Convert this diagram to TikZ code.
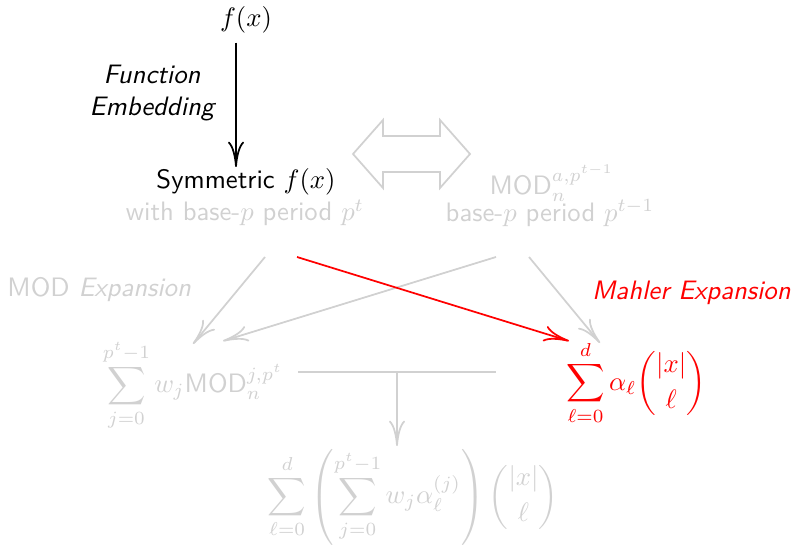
\documentclass[tikz,border=0pt]{standalone}
\usepackage{amsmath}
\usetikzlibrary{arrows.meta}
\begin{document}
\begin{tikzpicture}[x=0.375pt,y=-0.375pt,font=\sffamily,
  faded/.style={text=black!18},
  tipstyle/.style={-{To[length=9.5pt,width=6pt]}},
  gline/.style={draw=black!18, line width=0.65pt},
  garrow/.style={gline, tipstyle},
  rarrow/.style={draw=red, line width=0.65pt, tipstyle},
  barrow/.style={draw=black, line width=0.65pt, tipstyle}]
\useasboundingbox (0,0) rectangle (793,551);

\node (fx) at (246,20) {$f(x)$};
\node[font=\sffamily\itshape, align=center] (fe) at (152,93) {Function\\Embedding};
\node (sym) at (246,182) {Symmetric $f(x)$};
\node[faded] (symsub) at (245,213) {with base-$p$ period $p^t$};
\node[faded] (mod) at (552,183) {$\textsf{MOD}_n^{a,p^{t-1}}$};
\node[faded] (modsub) at (550,213) {base-$p$ period $p^{t-1}$};

\draw[gline] (353,154) -- (383,120) -- (383,136) -- (440,136) -- (440,120) -- (470,154)
  -- (440,188) -- (440,172) -- (383,172) -- (383,188) -- cycle;

\node[faded, anchor=west] (modexp) at (-2,290) {MOD \textit{Expansion}};
\node[red, font=\sffamily\itshape, anchor=east] (mahl) at (800,293) {Mahler Expansion};

\node[faded] (lsum) at (193,385) {$\displaystyle\sum_{j=0}^{p^t-1} w_j\textsf{MOD}_n^{j,p^t}$};
\node[red] (rsum) at (636,383) {$\displaystyle\sum_{\ell=0}^{d}\alpha_\ell\binom{|x|}{\ell}$};
\node[faded] (bsum) at (413,497) {$\displaystyle\sum_{\ell=0}^{d}\left(\sum_{j=0}^{p^t-1} w_j\alpha_\ell^{(j)}\right)\binom{|x|}{\ell}$};

\coordinate (s1) at (265,257);
\coordinate (s2) at (297,257);
\coordinate (s3) at (496,257);
\coordinate (s4) at (529,257);
\coordinate (h1) at (298,372);
\coordinate (h2) at (496,372);
\coordinate (hm) at (397,372);

\draw[barrow] ([xshift=-10*0.375pt]fx.south) -- (236,167);
\draw[garrow] (s1) -- (193,344);
\draw[garrow] (s3) -- (223,341);
\draw[garrow] (s4) -- (600,343);
\draw[rarrow] (s2) -- (569,341);
\draw[gline] (h1) -- (h2);
\draw[garrow] (hm) -- ++(0,74);
\end{tikzpicture}
\end{document}
